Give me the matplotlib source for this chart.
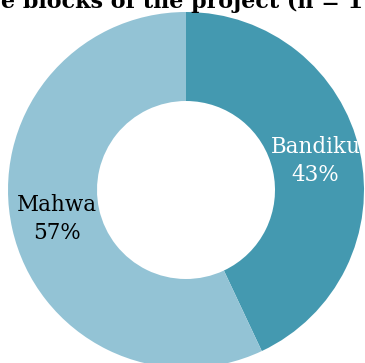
import matplotlib.pyplot as plt
import numpy as np

blocks = ["Bandiku", "Mahwa"]
shares = [43, 57]
colors = ["#4499b0", "#93c3d5"]
text_colors = ["white", "black"]

fig = plt.figure(figsize=(3.65, 3.63), dpi=100)
ax = fig.add_axes([0, 0, 1, 1])

wedges, _ = ax.pie(shares, colors=colors, startangle=90, counterclock=False,
                   radius=1, wedgeprops=dict(width=0.5, linewidth=0))

# labels placed in the middle of each ring segment
for w, name, val, tc in zip(wedges, blocks, shares, text_colors):
    ang = np.deg2rad((w.theta1 + w.theta2) / 2)
    r = 0.745
    ax.text(r * np.cos(ang), r * np.sin(ang), f"{name}\n{val}%",
            ha="center", va="center", fontsize=15.5, color=tc,
            family="DejaVu Serif", linespacing=1.35)

# the chart is cropped: center near (186, 190) px, radius ~178 px
scale = 178
ax.set_xlim(-186 / scale, (365 - 186) / scale)
ax.set_ylim(-(363 - 190) / scale, 190 / scale)
ax.axis("off")

# title cut off at the top edge of the image
fig.text(0.5, 1 - 8 / 363, "e blocks of the project (n = 1", ha="center",
         va="baseline", fontsize=16, fontweight="bold", family="DejaVu Serif")

fig.savefig("out.png", dpi=100)
